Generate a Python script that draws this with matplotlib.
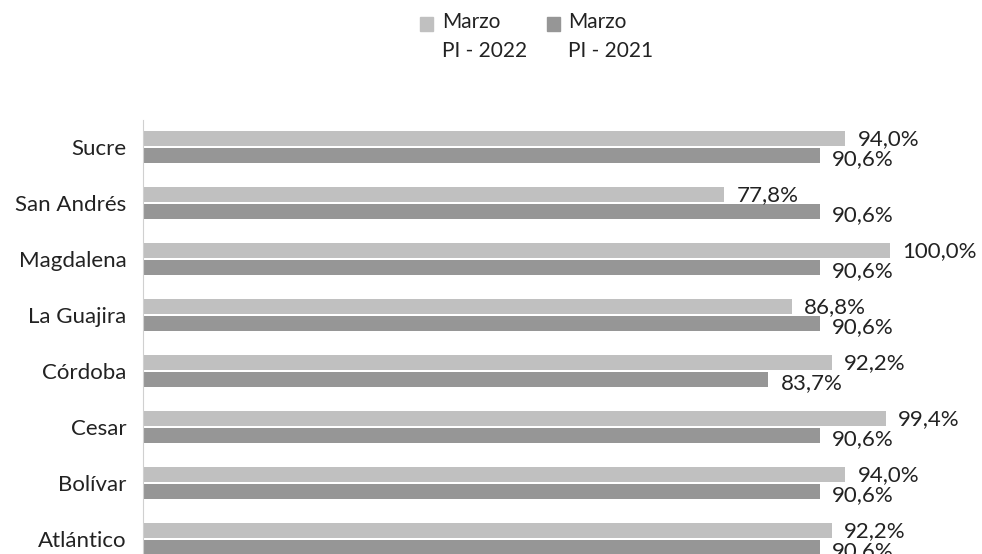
import matplotlib
matplotlib.use('Agg')
import matplotlib.pyplot as plt
from matplotlib.patches import Rectangle
import numpy as np

plt.rcParams['font.family'] = ['Lato', 'DejaVu Sans']

departments = ['Atlántico', 'Bolívar', 'Cesar', 'Córdoba', 'La Guajira',
               'Magdalena', 'San Andrés', 'Sucre']
pi_2022 = [92.2, 94.0, 99.4, 92.2, 86.8, 100.0, 77.8, 94.0]
pi_2021 = [90.6, 90.6, 90.6, 83.7, 90.6, 90.6, 90.6, 90.6]
legend_labels = ['Marzo\nPI - 2022', 'Marzo\nPI - 2021']

LIGHT = '#c0c0c0'
DARK = '#969696'
TEXT = '#222222'
W, H = 982, 554


def fmt(v):
    return f'{v:.1f}%'.replace('.', ',')


def add_legend(fig):
    # manual legend: square next to first line of a two-line label
    for sq_x, tx_x, color, label in zip([420, 547], [442, 568],
                                        [LIGHT, DARK], legend_labels):
        fig.patches.append(Rectangle((sq_x / W, 1 - 31 / H), 13 / W, 14 / H,
                                     transform=fig.transFigure, color=color))
        fig.text(tx_x / W, 1 - 12 / H, label, ha='left', va='top',
                 fontsize=15, color=TEXT, linespacing=1.55)


def main():
    fig = plt.figure(figsize=(W / 100, H / 100), dpi=100)
    ax = fig.add_axes([143 / W, 0, 822 / W, (H - 120) / H])

    y = np.arange(len(departments))
    h = 0.27
    off = 0.155
    ax.barh(y + off, pi_2022, height=h, color=LIGHT)
    ax.barh(y - off, pi_2021, height=h, color=DARK)

    for yi, v in zip(y, pi_2022):
        ax.text(v + 1.6, yi + off - 0.02, fmt(v), va='center', ha='left',
                fontsize=16, color=TEXT)
    for yi, v in zip(y, pi_2021):
        ax.text(v + 1.6, yi - off - 0.06, fmt(v), va='center', ha='left',
                fontsize=16, color=TEXT)

    ax.set_xlim(0, 110)
    ax.set_ylim(-0.268, 7.48)
    ax.set_yticks(y)
    ax.set_yticklabels(departments, fontsize=16, color=TEXT)
    ax.tick_params(axis='y', length=0, pad=12)
    ax.set_xticks([])
    for s in ['top', 'right', 'bottom']:
        ax.spines[s].set_visible(False)
    ax.spines['left'].set_color('#d0d0d0')
    ax.spines['left'].set_linestyle((0, (1, 1)))

    add_legend(fig)
    fig.savefig('out.png', dpi=100)


if __name__ == '__main__':
    main()
